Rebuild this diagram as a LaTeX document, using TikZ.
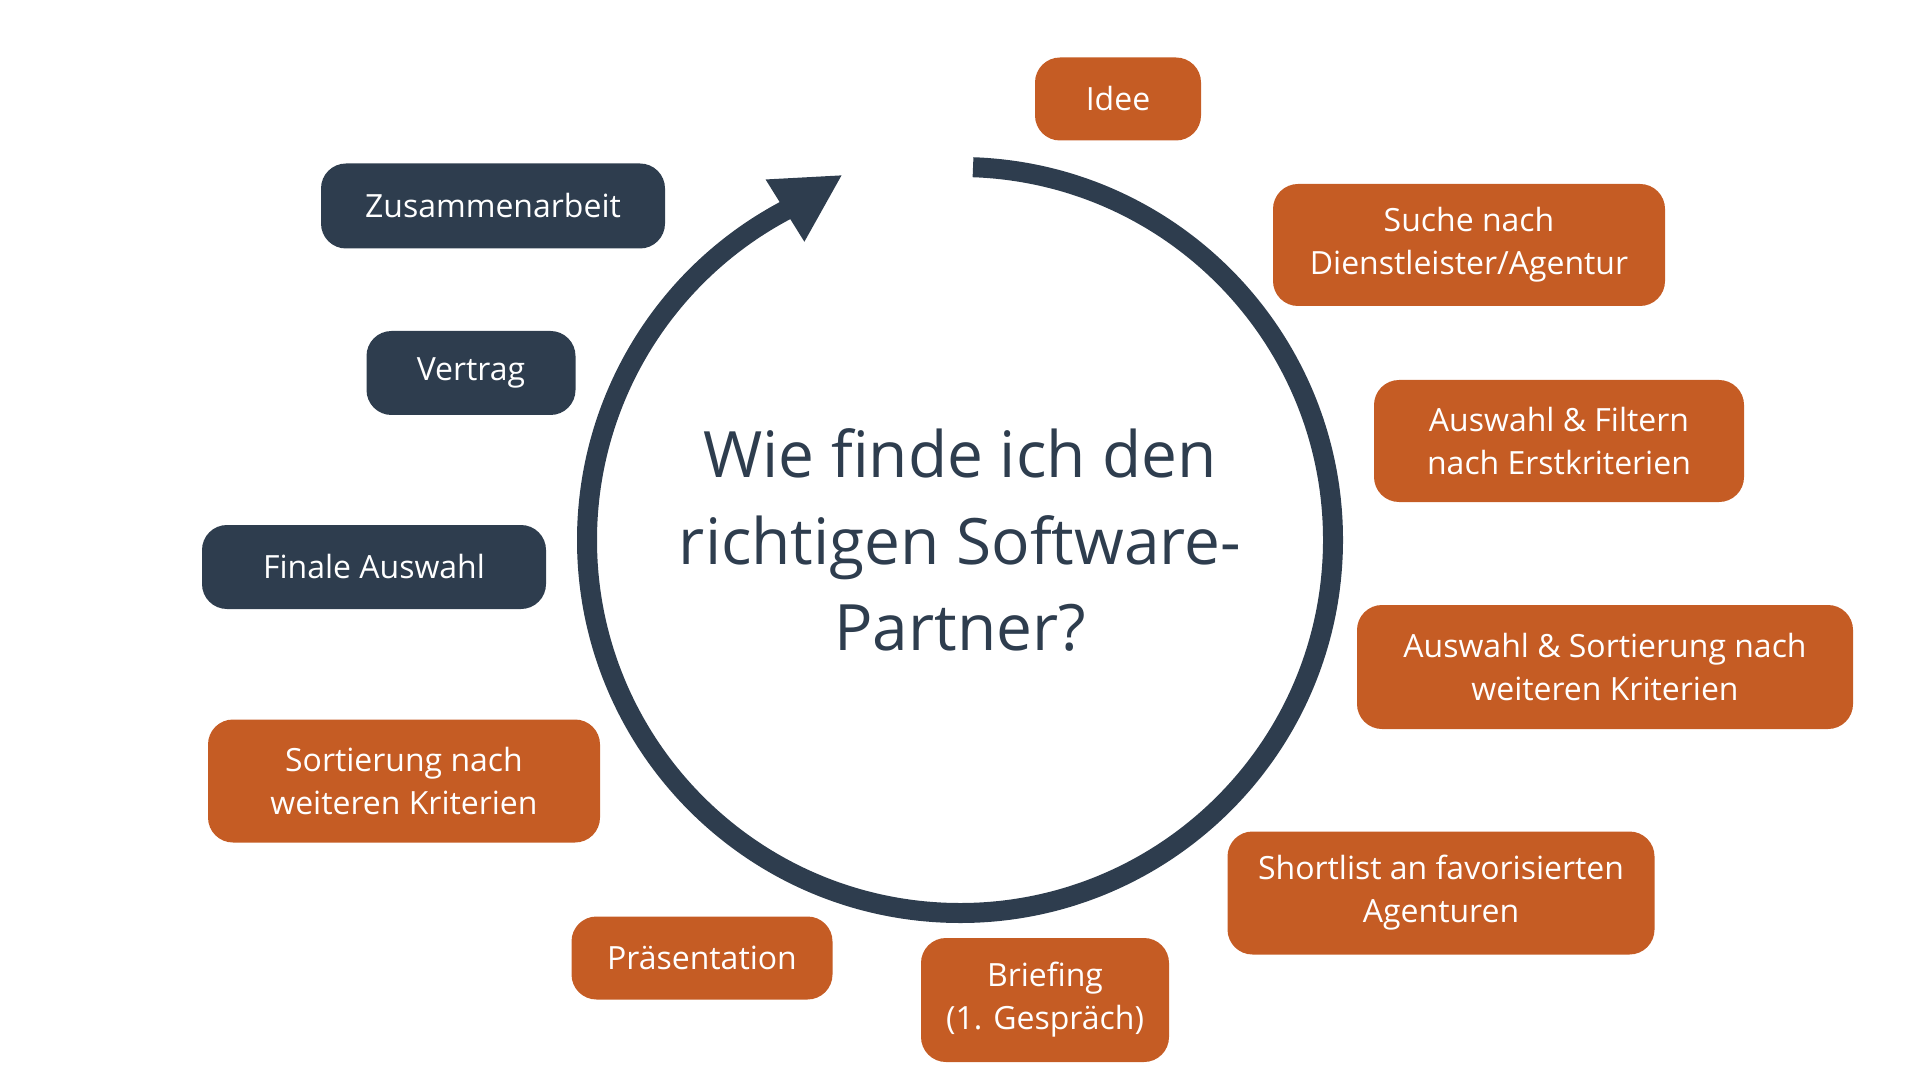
\documentclass[tikz,border=0pt]{standalone}
\usepackage{fontspec}
\setmainfont{Open Sans}
\usepackage{xcolor}
\usetikzlibrary{arrows.meta}

\definecolor{rust}{HTML}{C55C24}
\definecolor{navy}{HTML}{2E3D4E}

\tikzset{
  stepnode/.style={rounded corners=2.5mm, inner sep=0pt, align=center,
    text=white, font=\fontsize{9.1pt}{12.2pt}\selectfont},
  orangebox/.style={stepnode, fill=rust},
  darkbox/.style={stepnode, fill=navy},
  ring/.style={draw=navy, line width=2mm,
    -{Triangle[length=6.8mm, width=6.8mm]}}
}

\begin{document}
\begin{tikzpicture}
                  \useasboundingbox (0,0) rectangle (19.2,-10.8);
                  \coordinate (c) at (9.6,-5.4);

                  % ring
                  \draw[ring] (c) ++(88:3.73) arc[start angle=88, end angle=-242, radius=3.73] -- ++(0.578,0.36);
                  \node[text=navy, align=center, font=\fontsize{18.2pt}{24.7pt}\selectfont] (frage) at (c) {Wie finde ich den\\richtigen Software-\\Partner?};

                  % steps
                  \node[orangebox, minimum width=1.66cm, minimum height=0.83cm] (idee) at (11.18,-0.99) {Idee};
                  \node[orangebox, minimum width=3.92cm, minimum height=1.22cm] (suche) at (14.69,-2.45) {Suche nach\\Dienstleister/Agentur};
                  \node[orangebox, minimum width=3.70cm, minimum height=1.22cm] (filtern) at (15.59,-4.41) {Auswahl \& Filtern\\nach Erstkriterien};
                  \node[orangebox, minimum width=4.96cm, minimum height=1.24cm] (sortierung) at (16.05,-6.67) {Auswahl \& Sortierung nach\\weiteren Kriterien};
                  \node[orangebox, minimum width=4.27cm, minimum height=1.23cm] (shortlist) at (14.41,-8.93) {Shortlist an favorisierten\\Agenturen};
                  \node[orangebox, minimum width=2.48cm, minimum height=1.24cm] (briefing) at (10.45,-10.00) {Briefing\\(1. Gespräch)};
                  \node[orangebox, minimum width=2.61cm, minimum height=0.83cm] (praesentation) at (7.02,-9.58) {Präsentation};
                  \node[orangebox, minimum width=3.92cm, minimum height=1.23cm] (weitere) at (4.04,-7.81) {Sortierung nach\\weiteren Kriterien};
                  \node[darkbox, minimum width=3.44cm, minimum height=0.84cm] (finale) at (3.74,-5.67) {Finale Auswahl};
                  \node[darkbox, minimum width=2.09cm, minimum height=0.84cm] (vertrag) at (4.71,-3.73) {Vertrag};
                  \node[darkbox, minimum width=3.44cm, minimum height=0.85cm] (zusammen) at (4.93,-2.06) {Zusammenarbeit};
              \end{tikzpicture}
\end{document}
